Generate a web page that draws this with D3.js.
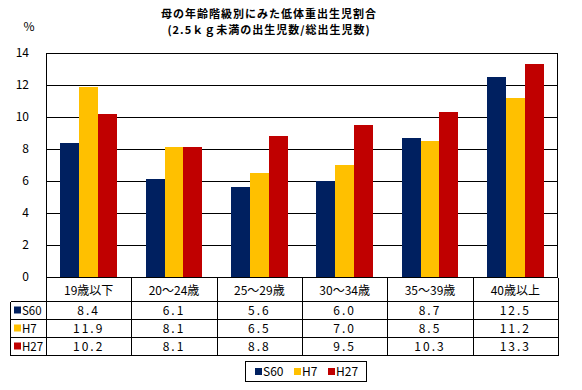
<!DOCTYPE html>
<html>
<head>
<meta charset="utf-8">
<script src="https://cdn.jsdelivr.net/npm/d3@7"></script>
<style>
  body { margin: 0; background: #fff; }
  svg { display: block; font-family: "Noto Sans CJK JP", "Noto Sans", sans-serif; }
</style>
</head>
<body>
<svg id="chart" width="582" height="390"></svg>
<script>
const categories = ["19歳以下", "20～24歳", "25～29歳", "30～34歳", "35～39歳", "40歳以上"]
const seriesNames = ["S60", "H7", "H27"]
const s60 = [8.4, 6.1, 5.6, 6.0, 8.7, 12.5]
const h7 = [11.9, 8.1, 6.5, 7.0, 8.5, 11.2]
const h27 = [10.2, 8.1, 8.8, 9.5, 10.3, 13.3]
const yTicks = [0, 2, 4, 6, 8, 10, 12, 14]
const colors = ["#002060", "#FFC000", "#C00000"]
const titleLines = ["母の年齢階級別にみた低体重出生児割合", "(2.5ｋｇ未満の出生児数/総出生児数)"]

const seriesValues = [s60, h7, h27]

const svg = d3.select("#chart")
const margin = { top: 53, right: 24, bottom: 112, left: 46 }
const width = 582, height = 390

const x0 = d3.scaleBand()
  .domain(categories)
  .range([margin.left, width - margin.right])

const x1 = d3.scaleBand()
  .domain(seriesNames)
  .range([0, x0.bandwidth()])
  .paddingOuter(0.75)

const y = d3.scaleLinear()
  .domain([0, 14])
  .range([height - margin.bottom - 1, margin.top])

const color = d3.scaleOrdinal().domain(seriesNames).range(colors)

// title
svg.append("g").selectAll("text")
  .data(titleLines)
  .join("text")
    .attr("x", 269)
    .attr("y", (d, i) => 18 + i * 16)
    .attr("text-anchor", "middle")
    .attr("font-size", 11)
    .attr("letter-spacing", 1)
    .attr("font-weight", "bold")
    .text(d => d)

svg.append("text")
  .attr("x", 29).attr("y", 31)
  .attr("text-anchor", "middle")
  .attr("font-size", 12)
  .text("%")

// gridlines + y labels
const yAxis = g => g
  .attr("transform", `translate(${margin.left},0)`)
  .call(d3.axisLeft(y).tickValues(yTicks).tickSize(-(width - margin.right - margin.left)).tickPadding(17))
  .call(g => g.select(".domain").remove())
  .call(g => g.selectAll(".tick line").attr("stroke", "#000").attr("shape-rendering", "crispEdges"))
  .call(g => g.selectAll(".tick text").attr("font-size", 12).attr("font-family", "Noto Sans CJK JP").attr("fill", "#000"))

svg.append("g").call(yAxis)

// bars
const groups = svg.append("g").selectAll("g")
  .data(categories)
  .join("g")
    .attr("transform", d => `translate(${x0(d)},0)`)

groups.selectAll("rect")
  .data((d, i) => seriesNames.map((s, j) => ({ series: s, value: seriesValues[j][i] })))
  .join("rect")
    .attr("x", d => x1(d.series))
    .attr("width", x1.bandwidth())
    .attr("y", d => y(d.value))
    .attr("height", d => y(0) - y(d.value))
    .attr("fill", d => color(d.series))
    .attr("shape-rendering", "crispEdges")

// plot frame
svg.append("rect")
  .attr("x", margin.left + 0.5)
  .attr("y", margin.top + 0.5)
  .attr("width", width - margin.right - margin.left - 1)
  .attr("height", y(0) - margin.top)
  .attr("fill", "none")
  .attr("stroke", "#000")
  .attr("shape-rendering", "crispEdges")

// data table
const tableTop = y(0) + 0.5
const headerH = 23
const rowH = 18
const tableLeft = 10.5
const tableRight = width - margin.right - 0.5
const table = svg.append("g").attr("shape-rendering", "crispEdges")

// horizontal lines
const hLines = [tableTop + headerH, tableTop + headerH + rowH, tableTop + headerH + 2 * rowH, tableTop + headerH + 3 * rowH]
table.selectAll("line.h")
  .data(hLines)
  .join("line")
    .attr("class", "h")
    .attr("x1", tableLeft).attr("x2", tableRight)
    .attr("y1", d => Math.round(d) + 0.5).attr("y2", d => Math.round(d) + 0.5)
    .attr("stroke", "#000")

// vertical lines
const vLines = categories.map(c => x0(c)).concat([x0.range()[1]])
table.selectAll("line.v")
  .data(vLines)
  .join("line")
    .attr("class", "v")
    .attr("x1", d => Math.round(d) + 0.5).attr("x2", d => Math.round(d) + 0.5)
    .attr("y1", tableTop).attr("y2", Math.round(hLines[3]) + 0.5)
    .attr("stroke", "#000")

table.append("line")
  .attr("x1", tableLeft).attr("x2", tableLeft)
  .attr("y1", Math.round(hLines[0]) + 0.5).attr("y2", Math.round(hLines[3]) + 0.5)
  .attr("stroke", "#000")

// header text
svg.append("g").selectAll("text")
  .data(categories)
  .join("text")
    .attr("x", d => x0(d) + x0.bandwidth() / 2)
    .attr("y", tableTop + 17)
    .attr("text-anchor", "middle")
    .attr("font-size", 12)
    .text(d => d)

// rows
seriesNames.forEach((s, j) => {
  const rowTop = tableTop + headerH + j * rowH
  svg.append("rect")
    .attr("x", 14).attr("y", rowTop + 6)
    .attr("width", 7).attr("height", 7)
    .attr("fill", colors[j])
  svg.append("text")
    .attr("x", 22).attr("y", rowTop + 14)
    .attr("font-size", 11.5)
    .text(s)
  svg.append("g").selectAll("text")
    .data(seriesValues[j])
    .join("text")
      .attr("x", (d, i) => x0(categories[i]) + x0.bandwidth() / 2)
      .attr("y", rowTop + 14)
      .attr("text-anchor", "middle")
      .attr("font-size", 12)
      .attr("letter-spacing", 2)
      .text(d => d.toFixed(1))
})

// legend
const legend = svg.append("g")
legend.append("rect")
  .attr("x", 245.5).attr("y", 361.5)
  .attr("width", 121).attr("height", 20)
  .attr("fill", "none").attr("stroke", "#000")
  .attr("shape-rendering", "crispEdges")

const legendX = [255, 294, 328]
legend.selectAll("g")
  .data(seriesNames)
  .join("g")
    .attr("transform", (d, i) => `translate(${legendX[i]},368)`)
    .call(g => g.append("rect").attr("width", 7).attr("height", 7).attr("fill", d => color(d)))
    .call(g => g.append("text").attr("x", 8).attr("y", 8).attr("font-size", 12).text(d => d))
</script>
</body>
</html>
